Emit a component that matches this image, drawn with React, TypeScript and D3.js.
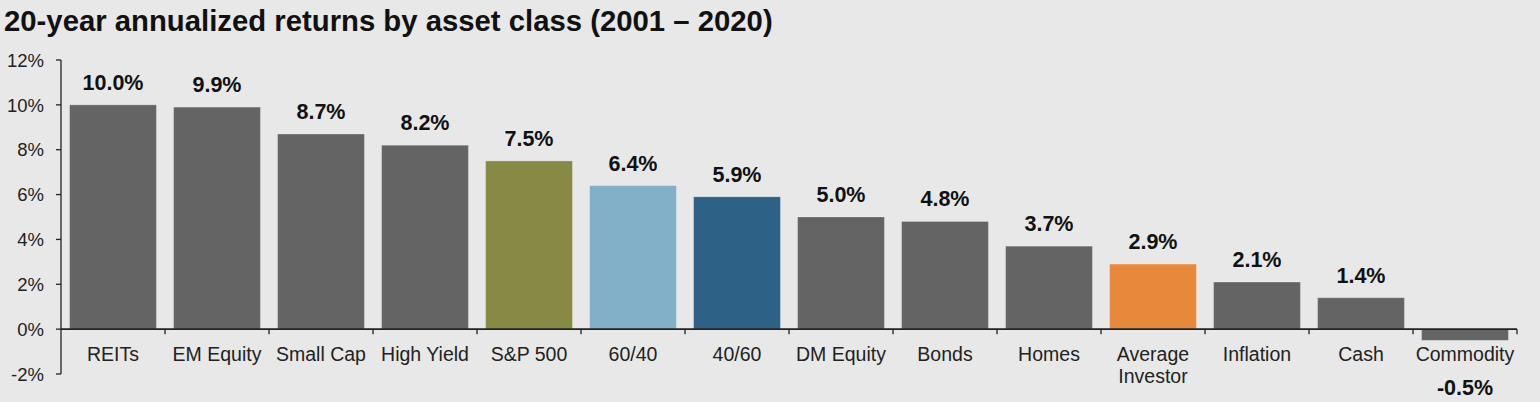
import React from "react";
import * as d3 from "d3";

const categories = ["REITs", "EM Equity", "Small Cap", "High Yield", "S&P 500", "60/40", "40/60", "DM Equity", "Bonds", "Homes", "Average Investor", "Inflation", "Cash", "Commodity"];
const values = [10.0, 9.9, 8.7, 8.2, 7.5, 6.4, 5.9, 5.0, 4.8, 3.7, 2.9, 2.1, 1.4, -0.5];
const barColors = ["#646464", "#646464", "#646464", "#646464", "#868a45", "#82b0c8", "#2e6186", "#646464", "#646464", "#646464", "#e8883a", "#646464", "#646464", "#646464"];
const yTicks = [-2, 0, 2, 4, 6, 8, 10, 12];
const title = "20-year annualized returns by asset class (2001 – 2020)";

const W = 1540, H = 402;
const FONT = "'Liberation Sans', Arial, sans-serif";

export default function App() {
  const x = d3.scaleBand<string>().domain(categories).range([61, 1517]).paddingInner(0.165).paddingOuter(0.0825);
  const y = d3.scaleLinear().domain([-2, 12]).range([374, 60]);
  const bandStep = x.step();
  const x0 = 61;
  return (
    <svg width={W} height={H} style={{ position: "absolute", left: 0, top: 0, background: "#e8e8e8", fontFamily: FONT }}>
      <rect x={0} y={0} width={W} height={H} fill="#e8e8e8" />
      <text x={4} y={31} fontSize={29.3} fontWeight="bold" fill="#111">{title}</text>
      {/* y axis */}
      <line x1={x0} x2={x0} y1={y(12)} y2={y(-2)} stroke="#222" strokeWidth={1.3} />
      {yTicks.map((t) => (
        <g key={t}>
          <line x1={x0 - 5} x2={x0} y1={y(t)} y2={y(t)} stroke="#222" strokeWidth={1.3} />
          <text x={44} y={y(t)} dy="0.36em" textAnchor="end" fontSize={18.5} fill="#222">{t + "%"}</text>
        </g>
      ))}
      {/* bars */}
      {categories.map((c, i) => {
        const v = values[i];
        const top = y(Math.max(0, v));
        const h = Math.abs(y(v) - y(0));
        const cx = (x(c) as number) + x.bandwidth() / 2;
        return (
          <g key={c}>
            <rect x={x(c)} y={top} width={x.bandwidth()} height={h} fill={barColors[i]} stroke="#ffffff" strokeOpacity={0.25} strokeWidth={1} />
            {v >= 0 ? (
              <text x={cx} y={y(v) - 15} textAnchor="middle" fontSize={21.5} fontWeight="bold" fill="#111">{v.toFixed(1) + "%"}</text>
            ) : (
              <text x={cx} y={395} textAnchor="middle" fontSize={21.5} fontWeight="bold" fill="#111">{v.toFixed(1) + "%"}</text>
            )}
          </g>
        );
      })}
      {/* x axis */}
      <line x1={x0} x2={1517} y1={y(0)} y2={y(0)} stroke="#222" strokeWidth={1.6} />
      {categories.map((c, i) => (
        <line key={"t" + i} x1={x0 + bandStep * (i + 1)} x2={x0 + bandStep * (i + 1)} y1={y(0)} y2={y(0) + 5} stroke="#222" strokeWidth={1.3} />
      ))}
      {categories.map((c) => {
        const cx = (x(c) as number) + x.bandwidth() / 2;
        const parts = c === "Average Investor" ? ["Average", "Investor"] : [c];
        return (
          <text key={"l" + c} x={cx} y={361} textAnchor="middle" fontSize={19.5} fill="#222">
            {parts.map((p, j) => (
              <tspan key={j} x={cx} dy={j === 0 ? 0 : 22}>{p}</tspan>
            ))}
          </text>
        );
      })}
    </svg>
  );
}
